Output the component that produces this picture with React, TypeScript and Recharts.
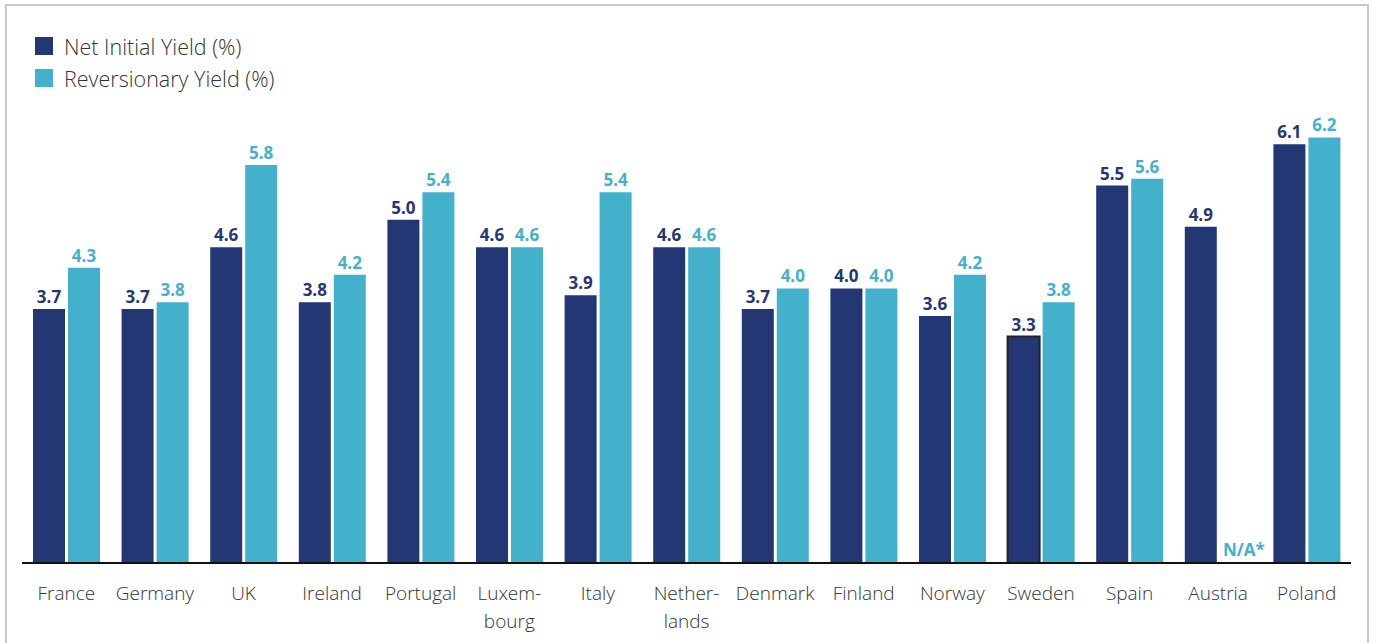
import React from 'react';
import { BarChart, Bar, XAxis, YAxis, LabelList, Cell } from 'recharts';

const countries = ['France', 'Germany', 'UK', 'Ireland', 'Portugal', 'Luxem-\nbourg', 'Italy', 'Nether-\nlands', 'Denmark', 'Finland', 'Norway', 'Sweden', 'Spain', 'Austria', 'Poland'];
const netInitialYield = [3.7, 3.7, 4.6, 3.8, 5.0, 4.6, 3.9, 4.6, 3.7, 4.0, 3.6, 3.3, 5.5, 4.9, 6.1];
const reversionaryYield: (number | null)[] = [4.3, 3.8, 5.8, 4.2, 5.4, 4.6, 5.4, 4.6, 4.0, 4.0, 4.2, 3.8, 5.6, null, 6.2];
const outlinedCountry = 'Sweden';
const seriesNames = ['Net Initial Yield (%)', 'Reversionary Yield (%)'];
const naText = 'N/A*';

const NAVY = '#233775';
const CYAN = '#44b1cc';
const FONT = '"Open Sans", "Noto Sans", sans-serif';
const BOLD_FONT = '"Open Sans", "Noto Sans", sans-serif';

const data = countries.map((c, i) => ({ country: c, niy: netInitialYield[i], ry: reversionaryYield[i] }));

const Tick = (props: any) => {
  const { x, y, payload } = props;
  const lines = String(payload.value).split('\n');
  return (
    <g>
      {lines.map((l, i) => (
        <text key={i} x={x} y={y + 29 + i * 28} textAnchor="middle" fontSize={19} fontWeight={300} fill="#333" fontFamily={FONT}>{l}</text>
      ))}
    </g>
  );
};

const BAR_GAP = 3;

const NiyLabel = (props: any) => {
  const { x, y, width, height, value, index } = props;
  const cx = Number(x) + Number(width) / 2;
  const items = [
    <text key="v" x={cx} y={Number(y) - 6} textAnchor="middle" fontSize={17} fontWeight={700} fill={NAVY} fontFamily={BOLD_FONT}>{Number(value).toFixed(1)}</text>,
  ];
  const ry = data[index] ? data[index].ry : 0;
  if (ry === null || ry === undefined) {
    const base = Number(y) + Number(height);
    const cx2 = cx + Number(width) + BAR_GAP + 8;
    items.push(<text key="na" x={cx2} y={base - 7} textAnchor="middle" fontSize={17} fontWeight={700} fill={CYAN} fontFamily={BOLD_FONT}>{naText}</text>);
  }
  return <g>{items}</g>;
};

const RyLabel = (props: any) => {
  const { x, y, width, value } = props;
  if (value === null || value === undefined) return null;
  const cx = Number(x) + Number(width) / 2;
  return <text x={cx} y={Number(y) - 6} textAnchor="middle" fontSize={17} fontWeight={700} fill={CYAN} fontFamily={BOLD_FONT}>{Number(value).toFixed(1)}</text>;
};

export default function App() {
  return (
    <div style={{ position: 'fixed', left: 5, top: 4, width: 1360, height: 660, borderTop: '2px solid #c8c8c8', borderLeft: '2px solid #c8c8c8', borderRight: '2px solid #c8c8c8', background: '#fff' }}>
      <div style={{ position: 'absolute', left: 28, top: 24, fontFamily: FONT, fontWeight: 300, fontSize: 21.5, color: '#333' }}>
        {[NAVY, CYAN].map((c, i) => (
          <div key={i} style={{ display: 'flex', alignItems: 'center', height: 32 }}>
            <div style={{ width: 18, height: 18, background: c, marginRight: 11 }} />
            <span>{seriesNames[i]}</span>
          </div>
        ))}
      </div>
      <BarChart width={1360} height={640} data={data} margin={{ top: 104, right: 16, bottom: 23, left: 15 }} barGap={BAR_GAP} barCategoryGap={11}>
        <XAxis dataKey="country" interval={0} tick={<Tick />} tickLine={false} axisLine={{ stroke: '#111', strokeWidth: 2 }} height={60} />
        <YAxis hide domain={[0, 6.6]} width={0} />
        <Bar dataKey="niy" fill={NAVY} isAnimationActive={false}>
          {data.map((d, i) => (
            <Cell key={i} fill={NAVY} stroke={d.country === outlinedCountry ? '#222' : 'none'} strokeWidth={d.country === outlinedCountry ? 2 : 0} />
          ))}
          <LabelList dataKey="niy" content={<NiyLabel />} />
        </Bar>
        <Bar dataKey="ry" fill={CYAN} isAnimationActive={false}>
          <LabelList dataKey="ry" content={<RyLabel />} />
        </Bar>
      </BarChart>
    </div>
  );
}
